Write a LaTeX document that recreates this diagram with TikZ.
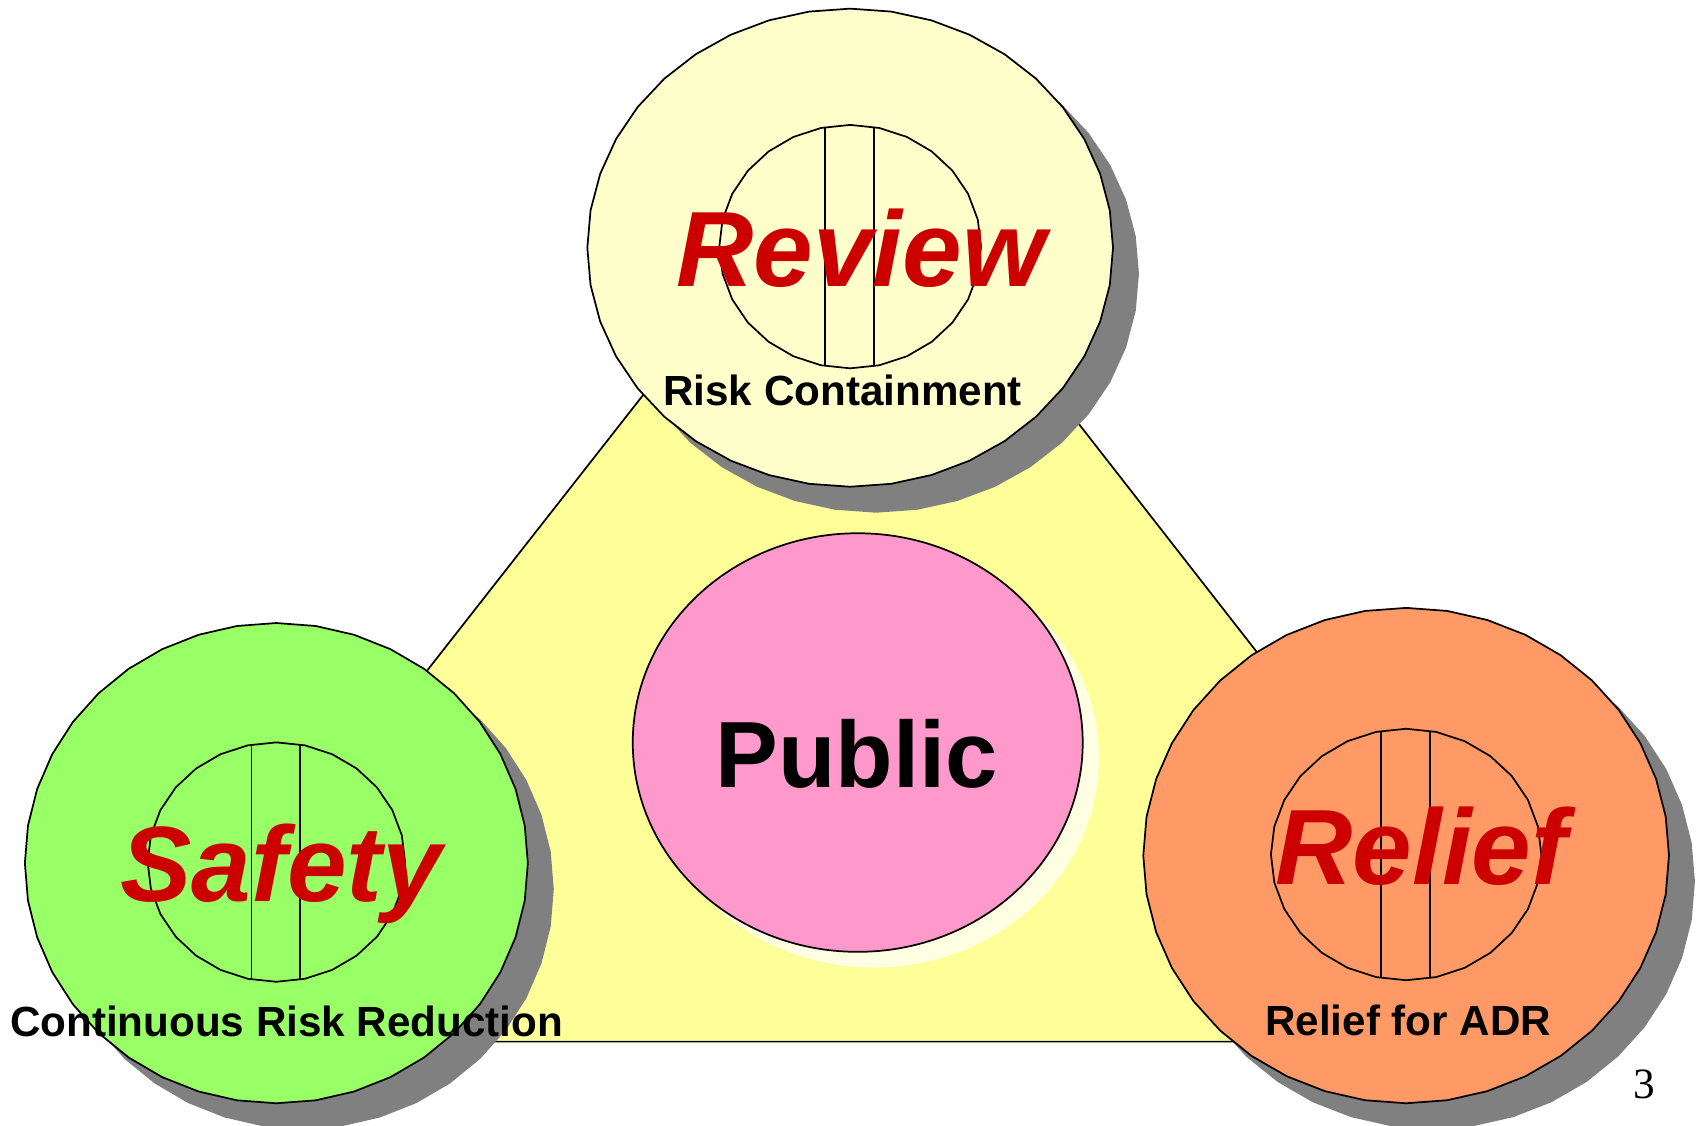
\documentclass[tikz,border=0pt]{standalone}
\usepackage{fontspec}
\setmainfont{Liberation Sans}
\newfontfamily\pagefont{Liberation Serif}
\usepackage{tikz}
\usetikzlibrary{positioning}

\definecolor{tribg}{HTML}{FFFF99}
\definecolor{reviewbg}{HTML}{FFFFCC}
\definecolor{safetybg}{HTML}{99FF66}
\definecolor{reliefbg}{HTML}{FF9966}
\definecolor{publicbg}{HTML}{FF99CC}
\definecolor{publicsh}{HTML}{FFFFE3}
\definecolor{shadowgray}{HTML}{808080}
\definecolor{wordred}{HTML}{CC0000}

% ring: polygonal disc with shadow, inner ring and two bars
\newcommand{\ring}[6]{%
  \fill[shadowgray] plot[domain=0:360,samples=41] ({#1+24+#3*cos(\x)},{#2+24+#4*sin(\x)}) -- cycle;
  \draw[outer,fill=#5] plot[domain=0:360,samples=41] ({#1+#3*cos(\x)},{#2+#4*sin(\x)}) -- cycle;
  \draw[outer] plot[domain=0:360,samples=29] ({#1+#6*cos(\x)},{#2-1+0.93*#6*sin(\x)}) -- cycle;
  \draw[outer] ({#1-23},{#2-1-0.91*#6}) -- ({#1-23},{#2-1+0.91*#6});
  \draw[outer] ({#1+22},{#2-1-0.91*#6}) -- ({#1+22},{#2-1+0.91*#6});
}

\begin{document}
\begin{tikzpicture}[x=1pt,y=-1pt,
    outer/.style={draw=black,line width=1.6pt,line join=round},
    bigword/.style={anchor=base,inner sep=0pt,text=wordred,font=\fontsize{99}{99}\selectfont\bfseries\itshape},
    subword/.style={anchor=base,inner sep=0pt,font=\fontsize{39}{39}\selectfont\bfseries}]
  \useasboundingbox (0,0) rectangle (1568,1041);

  % triangle behind
  \draw[line width=1.6pt,fill=tribg] (786,121) -- (126,963) -- (1443,963) -- cycle;

  % public
  \fill[publicsh] (808,701) ellipse[x radius=208,y radius=193.5];
  \draw[line width=1.6pt,fill=publicbg] (793,686.5) ellipse[x radius=208,y radius=193.5];
  \node[anchor=base,inner sep=0pt,font=\fontsize{87}{87}\selectfont\bfseries] (public) at (792,728) {Public};

  % three rings
  \ring{786}{229}{243}{221}{reviewbg}{121}
  \ring{255.5}{798}{232.5}{222}{safetybg}{119}
  \ring{1300}{791}{243}{229}{reliefbg}{125}

  \node[bigword] (review) at (796,265) {Review};
  \node[subword] (reviewsub) at (779,375) {Risk Containment};
  \node[bigword] (safety) at (260,833) {Safety};
  \node[subword] (safetysub) at (265,958) {Continuous Risk Reduction};
  \node[bigword] (relief) at (1314,818) {Relief};
  \node[subword] (reliefsub) at (1302,957) {Relief for ADR};

  \node[anchor=base,inner sep=0pt,font=\pagefont\fontsize{40}{40}\selectfont] (page) at (1520,1016) {3};
\end{tikzpicture}
\end{document}
